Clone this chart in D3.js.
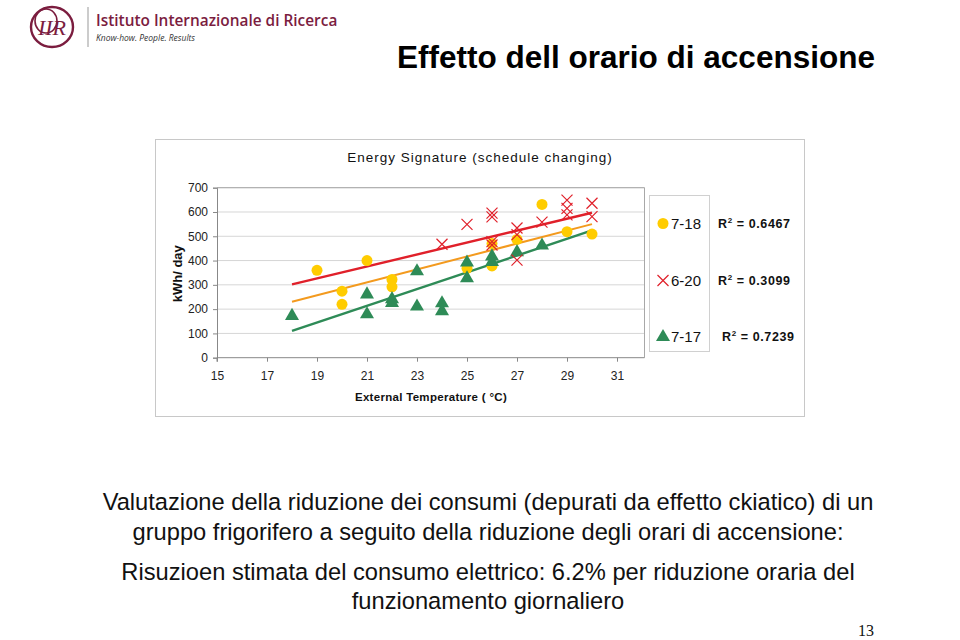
<!DOCTYPE html>
<html>
<head>
<meta charset="utf-8">
<script src="https://cdn.jsdelivr.net/npm/d3@7"></script>
<style>
  html, body { margin: 0; padding: 0; background: #fff; }
  svg { display: block; }
</style>
</head>
<body>
<svg id="chart" width="960" height="640"></svg>
<script>
// ---- Data ----
const xTicks = [15, 17, 19, 21, 23, 25, 27, 29, 31];
const yTicks = [0, 100, 200, 300, 400, 500, 600, 700];

const seriesNames = ["7-18", "6-20", "7-17"];
const r2Labels = ["0.6467", "0.3099", "0.7239"];

const temps718 = [19, 20, 20, 21, 22, 22, 25, 26, 26, 27, 28, 29, 30];
const kwh718   = [360, 274, 220, 400, 322, 292, 368, 378, 470, 487, 631, 519, 509];

const temps620 = [24, 25, 26, 26, 26, 26, 27, 27, 27, 28, 29, 29, 29, 30, 30];
const kwh620   = [467, 549, 595, 580, 478, 464, 534, 507, 402, 558, 649, 615, 588, 636, 581];

const temps717 = [18, 21, 21, 22, 22, 23, 23, 24, 24, 25, 25, 26, 26, 27, 28];
const kwh717   = [176, 265, 183, 245, 230, 360, 215, 228, 196, 396, 331, 421, 398, 439, 466];

const trendX = [18, 30];
const trend718 = [230, 550];
const trend620 = [302, 597];
const trend717 = [110, 524];

const bodyLines = [
  "Valutazione della riduzione dei consumi (depurati da effetto ckiatico) di un",
  "gruppo frigorifero a seguito della riduzione degli orari di accensione:",
  "Risuzioen stimata del consumo elettrico: 6.2% per riduzione oraria del",
  "funzionamento giornaliero"
];

// ---- Styles ----
const C_YEL = "#ffcc00", C_RED = "#e0202a", C_ORA = "#f39a1e", C_GRN = "#2e8b57";
const MAROON = "#7b1d3f";
const FONT = "'Liberation Sans', Arial, sans-serif";

const svg = d3.select("#chart");

// ---- Header / logo ----
const logo = svg.append("g");
logo.append("ellipse").attr("cx", 52).attr("cy", 27).attr("rx", 21).attr("ry", 20)
  .attr("fill", "none").attr("stroke", MAROON).attr("stroke-width", 2.4);
logo.append("ellipse").attr("cx", 46).attr("cy", 21).attr("rx", 11).attr("ry", 12)
  .attr("fill", "none").attr("stroke", MAROON).attr("stroke-width", 1.6);
logo.append("text").attr("x", 52).attr("y", 35).attr("text-anchor", "middle")
  .attr("font-family", "'Liberation Serif', serif").attr("font-style", "italic")
  .attr("font-size", 22).attr("fill", MAROON).text("IIR");
logo.append("line").attr("x1", 88).attr("x2", 88).attr("y1", 7).attr("y2", 47)
  .attr("stroke", "#999").attr("stroke-width", 1);
logo.append("text").attr("x", 96).attr("y", 26)
  .attr("font-family", "'Open Sans', 'DejaVu Sans', sans-serif").attr("font-weight", 600)
  .attr("font-size", 15.4).attr("fill", MAROON).text("Istituto Internazionale di Ricerca");
logo.append("text").attr("x", 96).attr("y", 41)
  .attr("font-family", "'Open Sans', sans-serif").attr("font-style", "italic")
  .attr("font-size", 8.5).attr("fill", "#333").text("Know-how. People. Results");

svg.append("text").attr("x", 636).attr("y", 68).attr("text-anchor", "middle")
  .attr("font-family", FONT).attr("font-weight", "bold").attr("font-size", 31.5)
  .attr("fill", "#000").text("Effetto dell orario di accensione");

// ---- Chart frame ----
svg.append("rect").attr("x", 155.5).attr("y", 139.5).attr("width", 649).attr("height", 277)
  .attr("fill", "#fff").attr("stroke", "#c8c8c8").attr("stroke-width", 1);

svg.append("text").attr("x", 480).attr("y", 162).attr("text-anchor", "middle")
  .attr("font-family", FONT).attr("font-size", 13.5).attr("letter-spacing", 1)
  .attr("fill", "#111").text("Energy Signature (schedule changing)");

const x = d3.scaleLinear().domain([15, 32.1]).range([217, 644.5]);
const y = d3.scaleLinear().domain([0, 700]).range([357.7, 187.7]);

const plot = svg.append("g");
// gridlines
plot.append("g").selectAll("line").data(yTicks.filter(v => v > 0)).join("line")
  .attr("x1", x(15)).attr("x2", x(32.1))
  .attr("y1", d => y(d)).attr("y2", d => y(d))
  .attr("stroke", "#d6d6d6").attr("stroke-width", 1);
// plot border top & right
plot.append("path")
  .attr("d", `M${x(15)},${y(700)}H${x(32.1)}V${y(0)}`)
  .attr("fill", "none").attr("stroke", "#a8a8a8").attr("stroke-width", 1);

const xAxis = d3.axisBottom(x).tickValues(xTicks).tickSize(4).tickPadding(10).tickFormat(d3.format("d"));
const yAxis = d3.axisLeft(y).tickValues(yTicks).tickSize(4).tickPadding(5).tickFormat(d3.format("d"));

const gx = plot.append("g").attr("transform", `translate(0,${y(0)})`).call(xAxis);
const gy = plot.append("g").attr("transform", `translate(${x(15)},0)`).call(yAxis);
[gx, gy].forEach(g => {
  g.select(".domain").attr("stroke", "#888");
  g.selectAll(".tick line").attr("stroke", "#888");
  g.selectAll("text").attr("font-family", FONT).attr("font-size", 12).attr("fill", "#222");
});
gx.select(".domain").attr("d", `M${x(15)},4V0H${x(32.1)}`);

svg.append("text").attr("transform", `translate(182,${(y(200)+y(500))/2 + 1}) rotate(-90)`)
  .attr("text-anchor", "middle").attr("font-family", FONT).attr("font-weight", "bold")
  .attr("font-size", 13).attr("fill", "#111").text("kWh/ day");
svg.append("text").attr("x", 431).attr("y", 401).attr("text-anchor", "middle")
  .attr("font-family", FONT).attr("font-weight", "bold").attr("font-size", 11.5)
  .attr("letter-spacing", 0.3)
  .attr("fill", "#111").text("External Temperature ( °C)");

// ---- Trend lines ----
const line = d3.line().x(d => x(d[0])).y(d => y(d[1]));
[[trend620, C_RED, 2.4], [trend718, C_ORA, 2], [trend717, C_GRN, 2.4]].forEach(([t, c, w]) => {
  plot.append("path").datum(trendX.map((tx, i) => [tx, t[i]]))
    .attr("d", line).attr("fill", "none").attr("stroke", c).attr("stroke-width", w);
});

// ---- Markers ----
const circ = d3.symbol().type(d3.symbolCircle).size(95);
const tri = d3.symbol().type(d3.symbolTriangle).size(85);
const xPath = "M-5.5,-5.5L5.5,5.5M-5.5,5.5L5.5,-5.5";

plot.append("g").selectAll("path").data(temps718.map((t, i) => [t, kwh718[i]])).join("path")
  .attr("transform", d => `translate(${x(d[0])},${y(d[1])})`)
  .attr("d", circ).attr("fill", C_YEL);
plot.append("g").selectAll("path").data(temps717.map((t, i) => [t, kwh717[i]])).join("path")
  .attr("transform", d => `translate(${x(d[0])},${y(d[1]) + 1})`)
  .attr("d", tri).attr("fill", C_GRN);
plot.append("g").selectAll("path").data(temps620.map((t, i) => [t, kwh620[i]])).join("path")
  .attr("transform", d => `translate(${x(d[0])},${y(d[1])})`)
  .attr("d", xPath).attr("fill", "none").attr("stroke", C_RED).attr("stroke-width", 1.2);

// ---- Legend ----
svg.append("rect").attr("x", 649.5).attr("y", 195.5).attr("width", 60).attr("height", 156)
  .attr("fill", "#fff").attr("stroke", "#d0d0d0");
const legY = [223.5, 280.5, 336];
const lg = svg.append("g");
lg.append("path").attr("transform", `translate(663,${legY[0]})`).attr("d", circ).attr("fill", C_YEL);
lg.append("path").attr("transform", `translate(663,${legY[1]})`).attr("d", xPath)
  .attr("fill", "none").attr("stroke", C_RED).attr("stroke-width", 1.2);
lg.append("path").attr("transform", `translate(663,${legY[2] + 1})`).attr("d", tri).attr("fill", C_GRN);
seriesNames.forEach((n, i) => {
  lg.append("text").attr("x", 671).attr("y", legY[i] + 5.5).attr("font-family", FONT)
    .attr("font-size", 15).attr("fill", "#111").text(n);
});
const r2x = [718, 718, 722];
r2Labels.forEach((r, i) => {
  const t = lg.append("text").attr("x", r2x[i]).attr("y", legY[i] + 4.5).attr("font-family", FONT)
    .attr("font-weight", "bold").attr("font-size", 12.5).attr("letter-spacing", 0.6)
    .attr("fill", "#111");
  t.append("tspan").text("R");
  t.append("tspan").attr("font-size", 8).attr("dy", -5).text("2");
  t.append("tspan").attr("dy", 5).text(" =  " + r);
});

// ---- Body text ----
const bodyY = [510, 540, 580, 609];
bodyLines.forEach((l, i) => {
  svg.append("text").attr("x", 488).attr("y", bodyY[i]).attr("text-anchor", "middle")
    .attr("font-family", FONT).attr("font-size", 23.7).attr("fill", "#111").text(l);
});
svg.append("text").attr("x", 866).attr("y", 636).attr("text-anchor", "middle")
  .attr("font-family", "'Liberation Serif', 'Times New Roman', serif").attr("font-size", 16)
  .attr("fill", "#111").text("13");
</script>
</body>
</html>
